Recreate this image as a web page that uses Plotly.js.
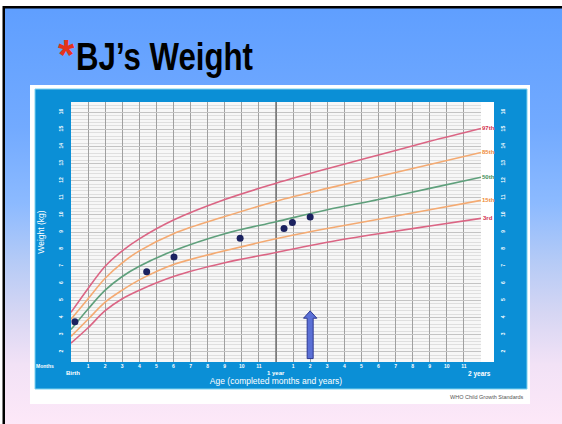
<!DOCTYPE html>
<html><head><meta charset="utf-8">
<script src="https://cdn.plot.ly/plotly-3.0.1.min.js"></script>
<style>
html,body{margin:0;padding:0;}
body{width:562px;height:424px;overflow:hidden;background:linear-gradient(to bottom,#5e9eff 0%,#72aaff 30%,#8cbaff 48%,#b6cbf6 62%,#d6d6f3 74%,#f2e2f6 86%,#fde8f8 100%);}
#chart{width:562px;height:424px;}
</style></head>
<body><div id="chart"></div>
<script>
// ---- data (WHO boys weight-for-age curves, kg) ----
const months = [0,1,2,3,4,6,9,12,15,18,21,24];
const p3  = [2.5,3.4,4.4,5.1,5.6,6.4,7.2,7.8,8.4,8.9,9.35,9.8];
const p15 = [2.9,3.9,4.9,5.6,6.2,7.1,7.9,8.6,9.2,9.75,10.3,10.85];
const p50 = [3.3,4.5,5.6,6.4,7.0,7.9,8.9,9.6,10.3,10.9,11.55,12.2];
const p85 = [3.9,5.1,6.3,7.2,7.9,8.9,9.9,10.8,11.55,12.25,12.95,13.65];
const p97 = [4.3,5.7,7.0,7.9,8.6,9.7,10.9,11.85,12.7,13.5,14.3,15.05];
const percentileNames = ['97th','85th','50th','15th','3rd'];
// BJ's measurements
const bjAgeMonths = [0.23,4.43,6.03,9.9,12.47,12.96,14.0];
const bjWeightKg  = [3.75,6.68,7.54,8.63,9.21,9.56,9.87];
// tick labels
const xTickVals = [0,1,2,3,4,5,6,7,8,9,10,11,12,13,14,15,16,17,18,19,20,21,22,23,24];
const xTickText = ['','1','2','3','4','5','6','7','8','9','10','11','','1','2','3','4','5','6','7','8','9','10','11',''];
const yTickVals = [2,3,4,5,6,7,8,9,10,11,12,13,14,15,16];
const yRange = [1.4,16.6];
const yearMarks = [12];
const arrowMonth = 14, arrowTipKg = 4.39, arrowBaseKg = 1.6;

// ---- layout helpers ----
const L=71,R=481,T=102,B=362;
const px = x => (x-L)/(R-L);
const py = y => (B-y)/(B-T);
function rectPx(x0,y0,x1,y1,fill,line){
  return {type:'rect',xref:'paper',yref:'paper',x0:px(x0),x1:px(x1),y0:py(y1),y1:py(y0),
    fillcolor:fill,line:line||{width:0},layer:'below'};
}
const pink='#db6584', orange='#f4aa72', green='#5fa07c';
const colors=[pink,orange,green,orange,pink];
const series=[p97,p85,p50,p15,p3];

const traces=[];
yearMarks.forEach(m=>traces.push({x:[m,m],y:yRange,type:'scatter',mode:'lines',line:{color:'#666666',width:1.3},hoverinfo:'skip',showlegend:false}));
series.forEach((s,i)=>traces.push({x:months,y:s,type:'scatter',mode:'lines',
  line:{color:colors[i],width:1.6,shape:'spline',smoothing:1},hoverinfo:'skip',showlegend:false}));
traces.push({x:bjAgeMonths,y:bjWeightKg,type:'scatter',mode:'markers',yaxis:'y2',
  marker:{color:'#1b2260',size:7,line:{width:0}},showlegend:false});

const aw=0.176, hw=0.39, hh=0.43;
const ax=arrowMonth, hy=arrowTipKg-hh;
const arrowPath=`M${ax-aw},${arrowBaseKg} L${ax-aw},${hy} L${ax-hw},${hy} L${ax},${arrowTipKg} L${ax+hw},${hy} L${ax+aw},${hy} L${ax+aw},${arrowBaseKg} Z`;

const shapes=[
  rectPx(0,0,562,6,'#ffffff'),
  rectPx(0,0,3,424,'#ffffff'),
  rectPx(3,6,562,8.5,'#000000'),
  rectPx(2.5,6,5,424,'#000000'),
  rectPx(30,85,530,404,'#ffffff'),
  rectPx(35,89,527,389,'#0b8fd6',{color:'#7fd2ef',width:1}),
  rectPx(L,T,R,B,'#f7f7f7'),
  rectPx(481,102,494,362,'#ffffff'),
  {type:'path',xref:'x',yref:'y',path:arrowPath,fillcolor:'#5b70d6',line:{color:'#2c3890',width:1},layer:'above'}
];

const wf={family:'Liberation Sans, Arial',color:'#ffffff',size:6,weight:700};
const annotations=[];
const labelColors=['#d2304e','#ef8c3c','#3f8f5a','#ef8c3c','#d2304e'];
percentileNames.forEach((n,i)=>annotations.push({xref:'paper',yref:'y',x:px(488),y:series[i][series[i].length-1]+0.02,text:n,showarrow:false,
  font:{family:'Liberation Sans, Arial',size:6,color:labelColors[i],weight:700},xanchor:'center',yanchor:'middle'}));
annotations.push({xref:'x',yref:'paper',x:0.1,y:py(373),text:'Birth',showarrow:false,font:wf,xanchor:'center',yanchor:'middle'});
annotations.push({xref:'x',yref:'paper',x:12,y:py(373),text:'1 year',showarrow:false,font:wf,xanchor:'center',yanchor:'middle'});
annotations.push({xref:'x',yref:'paper',x:23.9,y:py(373.5),text:'2 years',showarrow:false,font:Object.assign({},wf,{size:6.5}),xanchor:'center',yanchor:'middle'});
annotations.push({xref:'paper',yref:'paper',x:px(45),y:py(365.5),text:'Months',showarrow:false,font:Object.assign({},wf,{size:5}),xanchor:'center',yanchor:'middle'});
annotations.push({xref:'paper',yref:'paper',x:px(526),y:py(397),text:'WHO Child Growth Standards',showarrow:false,
  font:{family:'Liberation Sans, Arial',size:5.5,color:'#555555'},xanchor:'right',yanchor:'middle'});
// red bullet asterisk before the title
annotations.push({xref:'paper',yref:'paper',x:px(56),y:py(55),text:'*',showarrow:false,
  font:{family:'Liberation Sans, Arial',size:42,color:'#e5331c',weight:700},xanchor:'left',yanchor:'middle'});

const layout={
  width:562,height:424,
  margin:{l:L,r:562-R,t:T,b:424-B,pad:0},
  paper_bgcolor:'rgba(0,0,0,0)',plot_bgcolor:'#f7f7f7',
  showlegend:false,
  title:{text:'BJ’s Weight',
    font:{family:'Liberation Sans, Arial',size:39,color:'#000000',weight:700},
    xref:'container',yref:'container',x:76/562,xanchor:'left',y:1-56/424,yanchor:'middle'},
  xaxis:{range:[0,24],tickmode:'array',tickvals:xTickVals,ticktext:xTickText,showgrid:true,gridcolor:'#a0a0a0',gridwidth:1,
    zeroline:false,showline:false,ticks:'',ticklabelstandoff:0,tickfont:Object.assign({},wf,{size:5}),fixedrange:true,
    title:{text:'Age (completed months and years)',font:{family:'Liberation Sans, Arial',color:'#ffffff',size:8.5},standoff:10}},
  yaxis:{range:yRange,tickmode:'array',tickvals:yTickVals,showgrid:true,gridcolor:'#c4c4c4',gridwidth:1,
    minor:{dtick:0.2,showgrid:true,gridcolor:'#dfdfdf',gridwidth:1},
    zeroline:false,showline:false,ticks:'',tickangle:-90,ticklabelstandoff:6,tickfont:Object.assign({},wf,{size:5}),
    title:{text:'Weight (kg)',font:{family:'Liberation Sans, Arial',color:'#ffffff',size:8.5},standoff:12}},
  yaxis2:{range:yRange,overlaying:'y',side:'right',tickmode:'array',tickvals:yTickVals,showgrid:false,zeroline:false,
    showline:false,ticks:'',tickangle:-90,ticklabelstandoff:18,tickfont:Object.assign({},wf,{size:5})},
  shapes:shapes,annotations:annotations
};
Plotly.newPlot('chart',traces,layout,{displayModeBar:false,staticPlot:true}).then(()=>{
  const t=document.querySelector('.gtitle');
  if(t){t.setAttribute('textLength','177');t.setAttribute('lengthAdjust','spacingAndGlyphs');}
});
</script></body></html>
